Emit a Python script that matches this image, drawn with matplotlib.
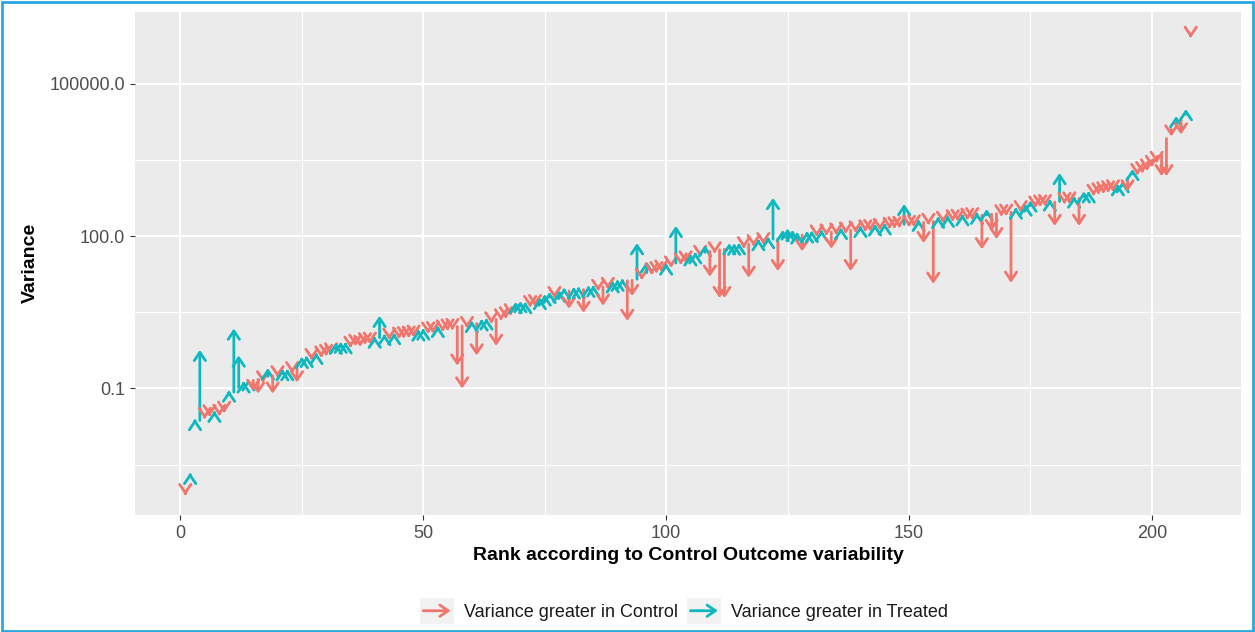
import matplotlib
matplotlib.use("Agg")
import matplotlib.pyplot as plt
from matplotlib.patches import Rectangle, FancyArrowPatch
from matplotlib.lines import Line2D
from matplotlib.legend_handler import HandlerBase
from matplotlib.ticker import NullFormatter

plt.rcParams['font.family'] = ['Liberation Sans', 'DejaVu Sans']

# ---------------- data (log10 of variance) ----------------
rank = list(range(1, 209))

control_log10 = [
    -3.06, -2.72, -1.65, -1.63, -1.55, -1.50, -1.49, -1.48, -1.42, -1.10,
    -1.07, -0.98, -0.92, -0.88, -0.84, -0.82, -0.80, -0.76, -0.75, -0.72,
    -0.70, -0.68, -0.64, -0.60, -0.45, -0.42, -0.38, -0.36, -0.33, -0.30,
    -0.27, -0.22, -0.18, -0.15, -0.12, -0.10, -0.08, -0.07, -0.06, -0.04,
    0.00, 0.01, 0.02, 0.03, 0.04, 0.05, 0.06, 0.08, 0.10, 0.12,
    0.14, 0.15, 0.17, 0.18, 0.20, 0.21, 0.22, 0.23, 0.25, 0.27,
    0.28, 0.30, 0.32, 0.34, 0.36, 0.40, 0.44, 0.50, 0.58, 0.62,
    0.64, 0.66, 0.68, 0.72, 0.76, 0.80, 0.84, 0.86, 0.90, 0.92,
    0.93, 0.94, 0.95, 0.96, 0.97, 0.98, 1.00, 1.02, 1.05, 1.08,
    1.10, 1.12, 1.13, 1.15, 1.20, 1.28, 1.30, 1.33, 1.36, 1.40,
    1.44, 1.47, 1.50, 1.54, 1.58, 1.62, 1.65, 1.68, 1.70, 1.72,
    1.73, 1.74, 1.76, 1.78, 1.80, 1.82, 1.84, 1.86, 1.88, 1.90,
    1.92, 1.94, 1.95, 1.97, 1.99, 2.00, 2.01, 2.02, 2.03, 2.04,
    2.05, 2.06, 2.07, 2.08, 2.09, 2.10, 2.11, 2.12, 2.13, 2.14,
    2.15, 2.16, 2.17, 2.18, 2.19, 2.20, 2.21, 2.22, 2.23, 2.24,
    2.25, 2.26, 2.27, 2.28, 2.29, 2.30, 2.32, 2.34, 2.35, 2.36,
    2.37, 2.38, 2.39, 2.40, 2.41, 2.42, 2.43, 2.44, 2.45, 2.46,
    2.47, 2.50, 2.53, 2.56, 2.60, 2.62, 2.64, 2.65, 2.66, 2.67,
    2.68, 2.69, 2.70, 2.72, 2.74, 2.78, 2.82, 2.85, 2.88, 2.90,
    2.92, 2.94, 2.96, 3.00, 3.14, 3.22, 3.26, 3.30, 3.35, 3.42,
    3.50, 3.58, 3.92, 4.10, 4.20, 4.30, 4.40, 5.96,
]

treated_log10 = [
    -3.10, -2.66, -1.60, -0.24, -1.60, -1.55, -1.44, -1.54, -1.48, -1.04,
    0.18, -0.35, -0.86, -0.82, -1.05, -1.10, -0.88, -0.60, -1.10, -0.78,
    -0.62, -0.62, -0.70, -0.88, -0.38, -0.36, -0.44, -0.30, -0.39, -0.36,
    -0.33, -0.10, -0.08, -0.09, -0.20, -0.16, -0.18, -0.13, -0.12, 0.02,
    0.43, 0.07, -0.04, 0.09, -0.02, -0.01, 0.00, 0.02, 0.16, 0.18,
    0.08, 0.09, 0.23, 0.12, 0.14, 0.15, -0.55, -1.00, 0.19, 0.33,
    -0.35, 0.36, 0.38, 0.28, -0.16, 0.34, 0.38, 0.44, 0.70, 0.72,
    0.70, 0.60, 0.62, 0.78, 0.85, 0.90, 0.78, 0.92, 0.98, 0.57,
    0.99, 1.00, 0.49, 1.02, 1.03, 0.92, 0.63, 0.96, 1.11, 1.14,
    1.16, 0.33, 0.82, 1.86, 1.14, 1.50, 1.24, 1.27, 1.30, 1.46,
    1.38, 2.20, 1.44, 1.48, 1.64, 1.68, 1.59, 1.82, 1.20, 1.66,
    0.78, 0.78, 1.86, 1.85, 1.86, 1.76, 1.18, 1.80, 1.94, 1.84,
    1.98, 2.75, 1.31, 2.12, 2.15, 2.12, 2.07, 1.70, 2.09, 2.10,
    1.99, 2.12, 2.01, 1.75, 2.03, 2.16, 2.05, 1.31, 2.07, 2.20,
    2.09, 2.10, 2.23, 2.12, 2.25, 2.14, 2.15, 2.16, 2.63, 2.18,
    2.19, 2.32, 1.86, 2.22, 1.06, 2.38, 2.26, 2.40, 2.29, 2.30,
    2.43, 2.32, 2.33, 2.46, 1.74, 2.53, 2.10, 1.94, 2.39, 2.40,
    1.08, 2.56, 2.47, 2.62, 2.70, 2.56, 2.58, 2.59, 2.72, 2.20,
    3.24, 2.63, 2.64, 2.78, 2.20, 2.88, 2.88, 2.79, 2.82, 2.84,
    2.86, 2.88, 3.02, 3.08, 2.88, 3.32, 3.20, 3.24, 3.29, 3.36,
    3.44, 3.18, 3.18, 3.96, 4.36, 4.00, 4.50, 5.90,
]

control_var = [10 ** v for v in control_log10]
treated_var = [10 ** v for v in treated_log10]

legend_labels = ["Variance greater in Control", "Variance greater in Treated"]
y_ticks = [0.1, 100.0, 100000.0]
y_tick_labels = ["0.1", "100.0", "100000.0"]
x_ticks = [0, 50, 100, 150, 200]

# ---------------- style ----------------
RED = "#F0766D"
TEAL = "#0DB8BE"
ARROW = "->,head_length=0.5,head_width=0.34"

fig = plt.figure(figsize=(12.55, 6.32), dpi=100)
ax = fig.add_axes([135 / 1255, 1 - 515 / 632, 1106 / 1255, 503 / 632])
ax.set_facecolor("#EBEBEB")
for s in ax.spines.values():
    s.set_visible(False)

for r, c, t in zip(rank, control_var, treated_var):
    col = TEAL if t > c else RED
    ax.annotate("", xy=(r, t), xytext=(r, c),
                arrowprops=dict(arrowstyle=ARROW, color=col, lw=2.0,
                                shrinkA=0, shrinkB=0, mutation_scale=12),
                zorder=3)

ax.set_yscale("log")
ax.set_xlim(-9.35, 218.35)
ax.set_ylim(10 ** -3.49, 10 ** 6.41)

ax.set_yticks(y_ticks)
ax.set_yticklabels(y_tick_labels)
ax.set_yticks([10 ** -2.5, 10 ** 0.5, 10 ** 3.5], minor=True)
ax.yaxis.set_minor_formatter(NullFormatter())
ax.set_xticks(x_ticks)
ax.set_xticks([25, 75, 125, 175], minor=True)

ax.tick_params(which="major", length=3.5, width=0.8, color="#333333",
               labelcolor="#4D4D4D", labelsize=13, pad=3.5)
ax.tick_params(which="minor", length=0)
ax.set_axisbelow(True)
ax.grid(which="major", color="white", lw=1.4)
ax.grid(which="minor", color="white", lw=0.8)

fig.text(30 / 1255, 1 - 263 / 632, "Variance", rotation=90, ha="center",
         va="center", fontsize=14, fontweight="bold", color="black")
fig.text(688 / 1255, 1 - 556 / 632, "Rank according to Control Outcome variability",
         ha="center", va="center", fontsize=14, fontweight="bold", color="black")


class HandlerArrow(HandlerBase):
    def create_artists(self, legend, orig_handle, xdescent, ydescent, width,
                       height, fontsize, trans):
        bg = Rectangle((-xdescent, -ydescent - 0.3 * height), width, 1.6 * height,
                       facecolor="#F2F2F2", edgecolor="none", transform=trans)
        y = -ydescent + height / 2
        arr = FancyArrowPatch((-xdescent + 0.1 * width, y),
                              (-xdescent + 0.9 * width, y),
                              arrowstyle=ARROW, mutation_scale=12,
                              color=orig_handle.get_color(), lw=2.0,
                              shrinkA=0, shrinkB=0, transform=trans)
        return [bg, arr]


handles = [Line2D([], [], color=RED), Line2D([], [], color=TEAL)]
fig.legend(handles, legend_labels, loc="center", bbox_to_anchor=(0.545, 0.032),
           ncol=2, frameon=False, fontsize=13, handlelength=1.9,
           handleheight=1.0, handletextpad=0.55, columnspacing=0.5,
           labelcolor="#1A1A1A", handler_map={Line2D: HandlerArrow()})

fig.patches.append(Rectangle((0.0015, 0.002), 0.997, 0.995, transform=fig.transFigure,
                             fill=False, edgecolor="#2AA7E0", lw=2))

fig.savefig("out.png", dpi=100)
